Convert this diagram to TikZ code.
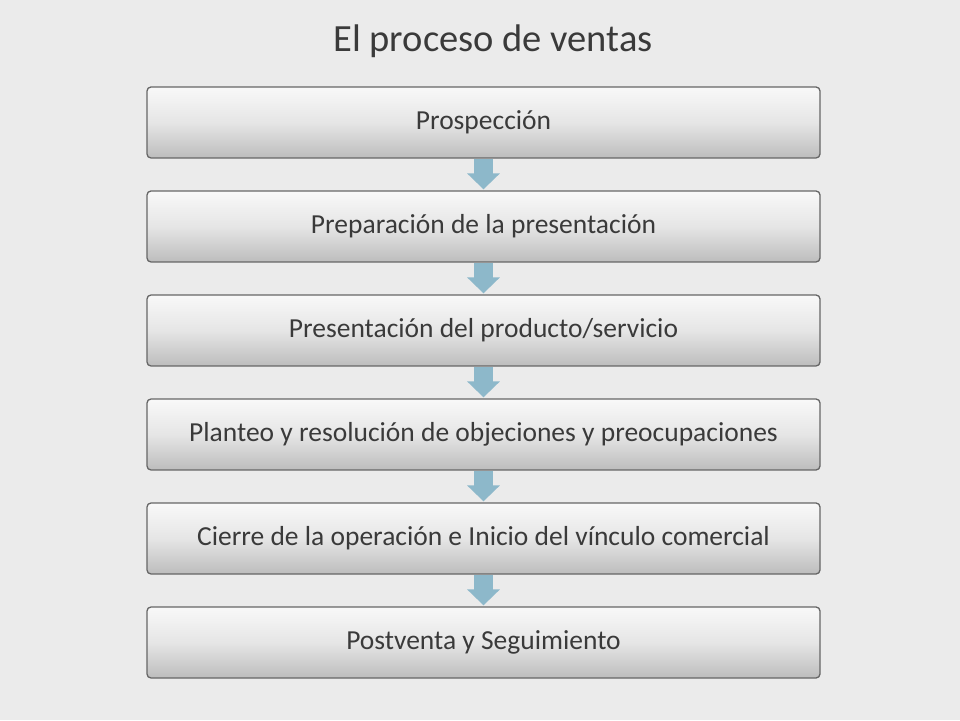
\documentclass[tikz,border=0pt]{standalone}
\usepackage{fontspec}
\setmainfont{Carlito}
\usetikzlibrary{arrows.meta,positioning,shadings}
\definecolor{fondo}{HTML}{EBEBEB}
\definecolor{texto}{HTML}{3A3A3A}
\definecolor{borde}{HTML}{666666}
\definecolor{flechaazul}{HTML}{8DB8CA}

\begin{document}
\begin{tikzpicture}[
    x=1pt,y=1pt,
    inner sep=0pt, %text sits right in the box
    paso/.style={rectangle,rounded corners=4pt,draw=borde,line width=1.3pt,
        top color=gray!5,bottom color=gray!52,middle color=gray!20,
        minimum width=673pt,minimum height=71pt,
        font=\fontsize{27.5}{30}\selectfont,text=texto},
    flecha/.style={draw=flechaazul,line width=19pt,
        -{Triangle[width=32pt,length=16pt]},shorten >=1pt},
    ]
    \fill[fondo] (0,0) rectangle (960,720);
    \useasboundingbox (0,0) rectangle (960,720);
    \node[anchor=base,font=\fontsize{38.5}{42}\selectfont,text=texto]
        (titulo) at (493,668) {El proceso de ventas};
    %six steps of the process
    \node[paso] (p1) at (483.5,597.5) {Prospección};
    \node[paso] (p2) at (483.5,493.5) {Preparación de la presentación};
    \node[paso] (p3) at (483.5,389.5) {Presentación del producto/servicio};
    \node[paso] (p4) at (483.5,285.5) {Planteo y resolución de objeciones y preocupaciones};
    \node[paso] (p5) at (483.5,181.5) {Cierre de la operación e Inicio del vínculo comercial};
    \node[paso] (p6) at (483.5,77.5) {Postventa y Seguimiento};
    %arrows between the steps
    \draw[flecha] (p1.south) -- (p2.north);
    \draw[flecha] (p2.south) -- (p3.north);
    \draw[flecha] (p3.south) -- (p4.north);
    \draw[flecha] (p4.south) -- (p5.north);
    \draw[flecha] (p5.south) -- (p6.north);
\end{tikzpicture}
\end{document}
